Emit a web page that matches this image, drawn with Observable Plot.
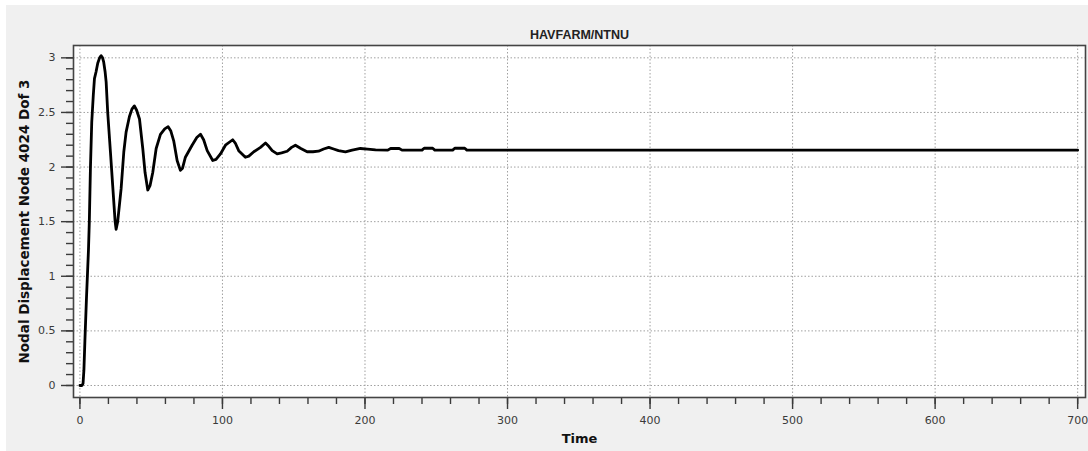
<!DOCTYPE html>
<html>
<head>
<meta charset="utf-8">
<script src="https://cdn.jsdelivr.net/npm/d3@7"></script>
<script src="https://cdn.jsdelivr.net/npm/@observablehq/plot@0.6"></script>
<style>
  html, body { margin: 0; padding: 0; background: #ffffff; }
  #panel {
    position: absolute; left: 6px; top: 5px;
    width: 1082px; height: 446px;
    background: #f0f0f0;
  }
  #panel svg { display: block; overflow: visible; }
</style>
</head>
<body>
<div id="panel"></div>
<script>
// Time history of nodal displacement (node 4024, DOF 3)
const time = [
  0, 1.5, 2.2, 2.8, 3.5, 4.6, 6.0, 6.6, 7.4, 8.3, 9.4, 10.2, 11.3, 12.5, 13.8, 14.9,
  15.9, 16.7, 17.7, 18.4, 19.5, 21.4, 23.0, 24.7, 25.4, 26.5, 28.9, 30.8, 32.4, 34.7,
  36.5, 38.2, 39.8, 41.8, 44.1, 45.7, 47.6, 49.2, 51.1, 53.5, 56.5, 59.5, 61.9, 63.8,
  65.8, 68.2, 70.5, 72.0, 74.0, 78.7, 82.0, 84.6, 86.8, 89.3, 93.2, 95.5, 98.6, 102.1,
  107.2, 109.0, 111.4, 116.1, 118.5, 122.0, 126.7, 130.2, 132.5, 134.9, 138.4, 141.5,
  145.4, 148.5, 151.2, 155.0, 159.4, 163.5, 167.4, 171.0, 174.6, 178.0, 181.4, 186.3,
  191.0, 196.8, 201.8, 207.4, 216.0, 218.0, 224.0, 226.0, 240.0, 241.5, 247.5, 249.0,
  261.5, 263.0, 270.0, 271.5, 700
];
const displacement = [
  0, 0, 0.02, 0.14, 0.41, 0.8, 1.24, 1.5, 2.0, 2.41, 2.66, 2.81, 2.87, 2.95, 3.0, 3.02,
  3.0, 2.96, 2.87, 2.78, 2.50, 2.14, 1.83, 1.50, 1.43, 1.50, 1.80, 2.14, 2.32, 2.46,
  2.53, 2.56, 2.52, 2.44, 2.17, 1.95, 1.79, 1.83, 1.95, 2.17, 2.30, 2.35, 2.37, 2.33,
  2.24, 2.06, 1.97, 1.99, 2.09, 2.20, 2.27, 2.30, 2.25, 2.15, 2.06, 2.07, 2.12, 2.20,
  2.25, 2.22, 2.15, 2.09, 2.10, 2.14, 2.18, 2.22, 2.19, 2.15, 2.12, 2.13,
  2.145, 2.18, 2.20, 2.17, 2.14, 2.14, 2.145, 2.165, 2.18, 2.165, 2.15, 2.14,
  2.155, 2.17, 2.165, 2.157, 2.155, 2.17, 2.17, 2.155, 2.155, 2.172, 2.172, 2.155,
  2.155, 2.172, 2.172, 2.155, 2.155
];

// Axis tick labels
const xTicks = [0, 100, 200, 300, 400, 500, 600, 700];
const yTicks = [0, 0.5, 1, 1.5, 2, 2.5, 3];

// Text
const titleText = "HAVFARM/NTNU";
const xLabel = "Time";
const yLabel = "Nodal Displacement Node 4024 Dof 3";

const series = time.map((t, i) => ({time: t, value: displacement[i]}));
const xMinor = d3.range(0, 701, 20);
const yMinor = d3.range(0, 31, 1).map(d => d / 10);

const tickStroke = "#3a3a3a";
const gridStyle = {stroke: "#a0a0a0", strokeOpacity: 1, strokeDasharray: "1.5,2", strokeWidth: 1};

const chart = Plot.plot({
  width: 1082,
  height: 446,
  marginLeft: 67,
  marginTop: 40,
  marginRight: 3,
  marginBottom: 54,
  x: {domain: [-4.5, 705.5], axis: null},
  y: {domain: [-0.11, 3.113], axis: null},
  style: {
    background: "transparent",
    fontFamily: "'DejaVu Sans', sans-serif",
    fontSize: "11px",
    color: "#3a3a3a"
  },
  marks: [
    Plot.frame({fill: "white", stroke: null}),
    Plot.gridX(xTicks, gridStyle),
    Plot.gridY(yTicks, gridStyle),
    Plot.line(series, {x: "time", y: "value", stroke: "black", strokeWidth: 2.8, strokeLinejoin: "round"}),
    Plot.axisX(xMinor, {tickSize: 7, tickFormat: () => "", label: null, stroke: tickStroke, strokeWidth: 1.4}),
    Plot.axisX(xTicks, {tickSize: 12, tickPadding: 7, tickFormat: d => String(d), label: null, stroke: tickStroke, strokeWidth: 1.4}),
    Plot.axisY(yMinor, {tickSize: 7, tickFormat: () => "", label: null, stroke: tickStroke, strokeWidth: 1.4}),
    Plot.axisY(yTicks, {tickSize: 12, tickPadding: 6, tickFormat: d => String(d), label: null, stroke: tickStroke, strokeWidth: 1.4}),
    Plot.frame({stroke: "#444", strokeWidth: 1.6}),
    Plot.text([titleText], {text: d => d, frameAnchor: "top", dy: -15, fontSize: 12.5, fontWeight: "bold", fill: "#222", fontFamily: "'Liberation Sans', sans-serif"}),
    Plot.text([xLabel], {text: d => d, frameAnchor: "bottom", dy: 45, fontSize: 13, fontWeight: "bold", fill: "#111"}),
    Plot.text([yLabel], {text: d => d, frameAnchor: "left", textAnchor: "middle", dx: -49, rotate: -90, fontSize: 13.5, fontWeight: "bold", fill: "#111"})
  ]
});

document.getElementById("panel").appendChild(chart);
</script>
</body>
</html>
